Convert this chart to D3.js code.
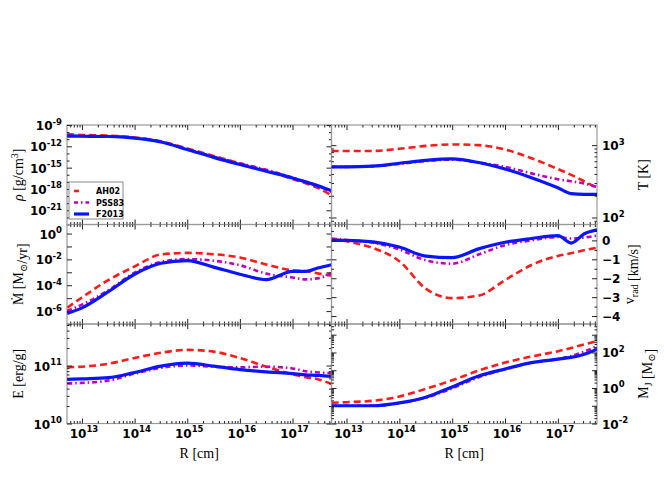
<!DOCTYPE html>
<html><head><meta charset="utf-8">
<script src="https://cdn.jsdelivr.net/npm/d3@7"></script>
<style>body{margin:0;background:#fff}</style>
</head><body>
<svg id="c" width="664" height="499"></svg>
<script>
// ---- data ----
// radius grid, log10(R/cm)
const logR = [12.72, 13.0, 13.5, 14.0, 14.5, 15.0, 15.5, 16.0, 16.5, 17.0, 17.25, 17.5, 17.74];
const seriesNames = ["AH02", "PSS83", "F2013"];
const xTickExp = [13, 14, 15, 16, 17];

// density, log10(rho / g cm^-3)
const rhoAH02  = [-10.3, -10.4, -10.5, -10.75, -11.3, -12.3, -13.35, -14.4, -15.4, -16.6, -17.2, -17.9, -18.9];
const rhoPSS83 = [-10.5, -10.55, -10.6, -10.8, -11.35, -12.4, -13.45, -14.4, -15.3, -16.4, -17.0, -17.6, -18.4];
const rhoF2013 = [-10.56, -10.58, -10.62, -10.85, -11.4, -12.45, -13.55, -14.55, -15.5, -16.45, -17.0, -17.6, -18.25];
const rhoTickExp = [-21, -18, -15, -12, -9];

// temperature, log10(T / K)
const tAH02  = [2.92, 2.92, 2.92, 2.95, 2.99, 3.01, 3.0, 2.94, 2.82, 2.67, 2.59, 2.5, 2.41];
const tPSS83 = [2.70, 2.70, 2.71, 2.74, 2.78, 2.80, 2.76, 2.70, 2.61, 2.53, 2.50, 2.47, 2.42];
const tF2013 = [2.70, 2.70, 2.71, 2.75, 2.79, 2.81, 2.76, 2.67, 2.55, 2.41, 2.33, 2.32, 2.32];
const tTickExp = [2, 3];

// accretion rate, log10(Mdot / Msun yr^-1)
const mdAH02  = [-5.73, -4.95, -3.6, -2.55, -1.62, -1.5, -1.6, -1.85, -2.4, -2.85, -2.92, -3.1, -3.26];
const mdPSS83 = [-5.98, -5.5, -4.4, -3.03, -2.2, -1.98, -2.1, -2.45, -3.1, -3.4, -3.55, -3.45, -3.05];
const mdF2013 = [-6.18, -5.75, -4.5, -3.15, -2.3, -2.09, -2.6, -3.15, -3.56, -2.93, -2.93, -2.65, -2.42];
const mdTickExp = [-6, -4, -2, 0];

// radial velocity, km/s
const vAH02  = [0.09, -0.05, -0.4, -1.1, -2.55, -3.05, -2.92, -2.1, -1.3, -0.82, -0.68, -0.52, -0.39];
const vPSS83 = [0.09, 0.02, -0.12, -0.48, -1.05, -1.23, -0.75, -0.25, 0.0, 0.18, 0.1, 0.15, 0.26];
const vF2013 = [0.0, 0.0, -0.08, -0.35, -0.83, -0.91, -0.45, -0.1, 0.1, 0.25, -0.14, 0.35, 0.56];
const vTicks = [-4, -3, -2, -1, 0];

// specific energy, log10(E / erg g^-1)
const eAH02  = [10.97, 10.98, 11.03, 11.13, 11.22, 11.27, 11.24, 11.13, 10.98, 10.85, 10.8, 10.76, 10.68];
const ePSS83 = [10.69, 10.70, 10.74, 10.86, 10.96, 11.0, 10.98, 10.97, 10.98, 10.95, 10.9, 10.88, 10.87];
const eF2013 = [10.76, 10.77, 10.79, 10.88, 10.99, 11.04, 10.99, 10.93, 10.89, 10.86, 10.84, 10.83, 10.81];
const eTickExp = [10, 11];

// Jeans mass, log10(MJ / Msun)
const mjAH02  = [-0.83, -0.8, -0.72, -0.48, -0.05, 0.43, 0.98, 1.43, 1.77, 2.07, 2.25, 2.45, 2.63];
const mjPSS83 = [-1.0, -1.0, -1.0, -0.85, -0.55, -0.02, 0.6, 1.05, 1.42, 1.62, 1.8, 2.05, 2.36];
const mjF2013 = [-1.0, -1.0, -1.0, -0.84, -0.52, 0.06, 0.67, 1.07, 1.43, 1.62, 1.72, 1.9, 2.18];
const mjTickExp = [-2, 0, 2];

// ---- layout ----
const colX = [[67, 331.5], [331.5, 597]];
const rowY = [[125, 224.5], [224.5, 324], [324, 423.5]];
const xDomain = [5.2e12, 5.5e17];

const panels = [
  {col:0,row:0,type:"log",domain:[1e-23,1e-9],series:[rhoAH02,rhoPSS83,rhoF2013],labels:rhoTickExp,minorDec:true,ylab:"rho"},
  {col:1,row:0,type:"log",domain:[80,1900],series:[tAH02,tPSS83,tF2013],labels:tTickExp,minor29:true,ylab:"T"},
  {col:0,row:1,type:"log",domain:[1e-7,5],series:[mdAH02,mdPSS83,mdF2013],labels:mdTickExp,ylab:"Md"},
  {col:1,row:1,type:"lin",domain:[-4.42,0.84],series:[vAH02,vPSS83,vF2013],labels:vTicks,ylab:"v"},
  {col:0,row:2,type:"log",domain:[1e10,5.2e11],series:[eAH02,ePSS83,eF2013],labels:eTickExp,minor29:true,ylab:"E"},
  {col:1,row:2,type:"log",domain:[1e-2,4000],series:[mjAH02,mjPSS83,mjF2013],labels:mjTickExp,minor29:true,ylab:"MJ"}
];

const colors = {AH02:"#ff1a1a", PSS83:"#c000c0", F2013:"#0a14ff"};
const widths = {AH02:2.6, PSS83:2.6, F2013:3.2};
const dashes = {AH02:"7,4", PSS83:"5,3,1.5,3", F2013:null};
const tickColor = "#222";
const frameColor = "#999";
const tickFont = "DejaVu Sans, sans-serif";
const labFont = "Liberation Serif, DejaVu Serif, serif";

const svg = d3.select("#c");
const defs = svg.append("defs");

function supLabel(g, x, y, exp, anchor) {
  const t = g.append("text").attr("x", x).attr("y", y).attr("text-anchor", anchor)
    .attr("font-family", tickFont).attr("font-weight", "bold").attr("font-size", 12).attr("fill", "#000");
  t.append("tspan").text("10");
  t.append("tspan").attr("dy", -5.5).attr("font-size", 8.5).text(String(exp));
  return t;
}

panels.forEach((p, i) => {
  const [x0, x1] = colX[p.col], [y0, y1] = rowY[p.row];
  const x = d3.scaleLog().domain(xDomain).range([x0, x1]);
  const y = (p.type === "log" ? d3.scaleLog() : d3.scaleLinear()).domain(p.domain).range([y1, y0]);
  const g = svg.append("g");

  defs.append("clipPath").attr("id", "clip" + i).append("rect")
    .attr("x", x0).attr("y", y0).attr("width", x1 - x0).attr("height", y1 - y0);

  // frame (light grey, drawn under ticks)
  g.append("rect").attr("x", x0).attr("y", y0).attr("width", x1 - x0).attr("height", y1 - y0)
    .attr("fill", "none").attr("stroke", frameColor).attr("stroke-width", 1.2);

  // lines
  const line = d3.line().x(d => x(d[0])).y(d => y(d[1])).curve(d3.curveMonotoneX);
  const lg = g.append("g").attr("clip-path", `url(#clip${i})`);
  seriesNames.forEach((name, s) => {
    const vals = p.series[s];
    const data = logR.map((r, k) => [Math.pow(10, r), p.type === "log" ? Math.pow(10, vals[k]) : vals[k]]);
    lg.append("path").datum(data).attr("d", line).attr("fill", "none")
      .attr("stroke", colors[name]).attr("stroke-width", widths[name])
      .attr("stroke-dasharray", dashes[name]).attr("stroke-linejoin", "round");
  });

  // x ticks (inside, top and bottom)
  const xMajor = xTickExp.map(e => Math.pow(10, e));
  const xMinor = [];
  for (let d = 12; d <= 17; d++) for (let m = 2; m <= 9; m++) {
    const v = m * Math.pow(10, d);
    if (v > xDomain[0] && v < xDomain[1]) xMinor.push(v);
  }
  const clean = sel => { sel.select(".domain").remove(); sel.attr("color", tickColor); sel.selectAll("line").attr("stroke-width", 1); };
  g.append("g").attr("transform", `translate(0,${y1})`).call(d3.axisBottom(x).tickValues(xMajor).tickSize(-5).tickFormat(() => "")).call(clean);
  g.append("g").attr("transform", `translate(0,${y1})`).call(d3.axisBottom(x).tickValues(xMinor).tickSize(-2.5).tickFormat(() => "")).call(clean);
  g.append("g").attr("transform", `translate(0,${y0})`).call(d3.axisTop(x).tickValues(xMajor).tickSize(-5).tickFormat(() => "")).call(clean);
  g.append("g").attr("transform", `translate(0,${y0})`).call(d3.axisTop(x).tickValues(xMinor).tickSize(-2.5).tickFormat(() => "")).call(clean);

  // y ticks
  let yMajor = [], yMinor = [];
  if (p.type === "log") {
    const lo = Math.floor(Math.log10(p.domain[0])), hi = Math.ceil(Math.log10(p.domain[1]));
    for (let e = lo; e <= hi; e++) {
      const v = Math.pow(10, e);
      if (v >= p.domain[0] * 0.999 && v <= p.domain[1] * 1.001) {
        if (p.minorDec && !p.labels.includes(e)) yMinor.push(v); else yMajor.push(v);
      }
      if (p.minor29) for (let m = 2; m <= 9; m++) {
        const w = m * v;
        if (w > p.domain[0] && w < p.domain[1]) yMinor.push(w);
      }
    }
  } else {
    for (let v = -4; v <= 0; v += 1) yMajor.push(v);
    for (let v = -4.5; v <= 1; v += 0.5) if (v % 1 !== 0 && v > p.domain[0] && v < p.domain[1]) yMinor.push(v);
  }
  g.append("g").attr("transform", `translate(${x0},0)`).call(d3.axisLeft(y).tickValues(yMajor).tickSize(-5).tickFormat(() => "")).call(clean);
  g.append("g").attr("transform", `translate(${x0},0)`).call(d3.axisLeft(y).tickValues(yMinor).tickSize(-2.5).tickFormat(() => "")).call(clean);
  g.append("g").attr("transform", `translate(${x1},0)`).call(d3.axisRight(y).tickValues(yMajor).tickSize(-5).tickFormat(() => "")).call(clean);
  g.append("g").attr("transform", `translate(${x1},0)`).call(d3.axisRight(y).tickValues(yMinor).tickSize(-2.5).tickFormat(() => "")).call(clean);

  // y tick labels
  const left = p.col === 0;
  const lx = left ? x0 - 5 : x1 + 5;
  const anchor = left ? "end" : "start";
  p.labels.forEach(l => {
    if (p.type === "log") {
      supLabel(g, lx, y(Math.pow(10, l)) + 5, l, anchor);
    } else {
      g.append("text").attr("x", lx).attr("y", y(l) + 4.5).attr("text-anchor", anchor)
        .attr("font-family", tickFont).attr("font-weight", "bold").attr("font-size", 12)
        .text(l < 0 ? "\u2212" + Math.abs(l) : String(l));
    }
  });

  // x tick labels on bottom row
  if (p.row === 2) {
    xTickExp.forEach(e => supLabel(g, x(Math.pow(10, e)) + 2, y1 + 14, e, "middle"));
    g.append("text").attr("x", (x0 + x1) / 2).attr("y", y1 + 34).attr("text-anchor", "middle")
      .attr("font-family", labFont).attr("font-size", 14).text("R [cm]");
  }

  // y axis titles
  const cy = (y0 + y1) / 2;
  const tx = left ? 23 : (p.ylab === "v" ? 634 : 648);
  const t = g.append("text").attr("transform", `translate(${tx},${cy}) rotate(-90)`)
    .attr("text-anchor", "middle").attr("font-family", labFont).attr("font-size", 14);
  const sub = (txt) => { t.append("tspan").attr("dy", 3.5).attr("font-size", 10).text(txt); t.append("tspan").attr("dy", -3.5).text(""); };
  if (p.ylab === "rho") {
    t.append("tspan").attr("font-style", "italic").text("\u03c1");
    t.append("tspan").text(" [g/cm");
    t.append("tspan").attr("dy", -5).attr("font-size", 10).text("3");
    t.append("tspan").attr("dy", 5).text("]");
  } else if (p.ylab === "T") {
    t.append("tspan").text("T [K]");
  } else if (p.ylab === "Md") {
    t.append("tspan").text("\u1e40 [M");
    sub("\u2299");
    t.append("tspan").text("/yr]");
  } else if (p.ylab === "v") {
    t.append("tspan").text("v");
    sub("rad");
    t.append("tspan").text(" [km/s]");
  } else if (p.ylab === "E") {
    t.append("tspan").text("E [erg/g]");
  } else if (p.ylab === "MJ") {
    t.append("tspan").text("M");
    sub("J");
    t.append("tspan").text(" [M");
    sub("\u2299");
    t.append("tspan").text("]");
  }

  // legend in first panel
  if (i === 0) {
    const leg = g.append("g");
    leg.append("rect").attr("x", 69).attr("y", 182).attr("width", 54).attr("height", 37)
      .attr("fill", "#fff").attr("stroke", "#888").attr("stroke-width", 1);
    seriesNames.forEach((name, s) => {
      const ly = 191 + s * 11.5;
      leg.append("line").attr("x1", 74).attr("x2", 89).attr("y1", ly).attr("y2", ly)
        .attr("stroke", colors[name]).attr("stroke-width", widths[name])
        .attr("stroke-dasharray", name === "AH02" ? "5,10" : (name === "PSS83" ? "4,3,1.5,3" : null));
      leg.append("text").attr("x", 96).attr("y", ly + 3).attr("font-family", tickFont)
        .attr("font-weight", "bold").attr("font-size", 8).text(name);
    });
  }
});
</script>
</body></html>
